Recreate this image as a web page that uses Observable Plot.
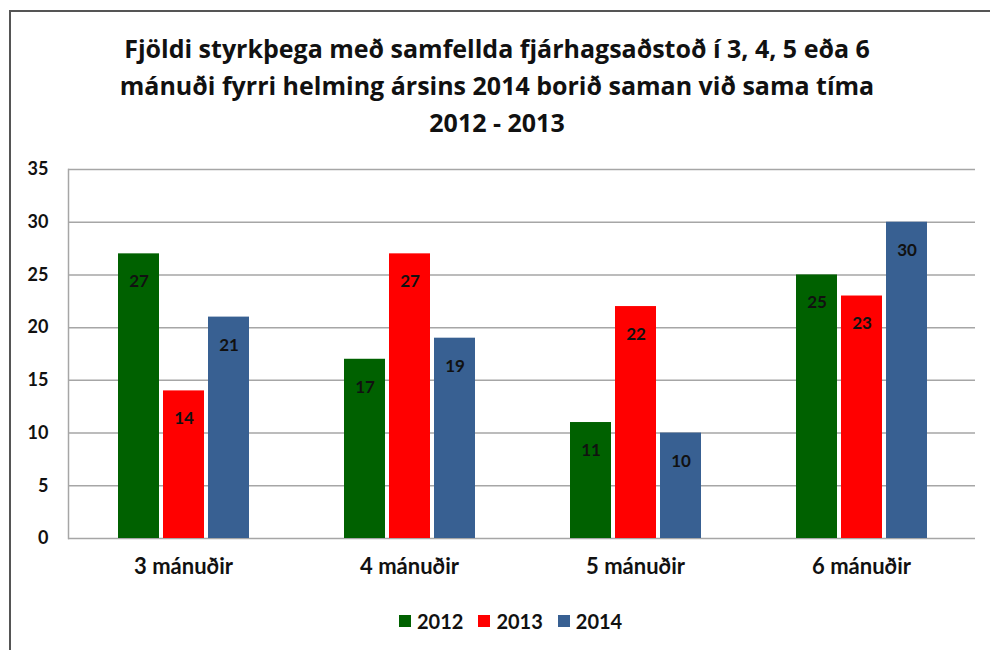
<!DOCTYPE html>
<html>
<head>
<meta charset="utf-8">
<script src="https://cdn.jsdelivr.net/npm/d3@7"></script>
<script src="https://cdn.jsdelivr.net/npm/@observablehq/plot@0.6"></script>
<style>
  html, body { margin: 0; padding: 0; background: #fff; }
  #page { position: relative; width: 990px; height: 650px; overflow: hidden; background: #fff; font-family: Lato, "Open Sans", sans-serif; }
  #frame { position: absolute; left: 9px; top: 10px; width: 1100px; height: 800px; border-top: 2px solid #555; border-left: 2px solid #555; }
  #title { position: absolute; left: 0; top: 30px; width: 990px; padding-left: 4px; box-sizing: border-box; text-align: center; font-family: "Open Sans", sans-serif; font-weight: 700; font-size: 25px; line-height: 37px; color: #111; }
  .layer { position: absolute; left: 0; top: 150px; }
  #legend { position: absolute; top: 609px; left: 399px; display: flex; align-items: center; font-weight: 700; font-size: 20px; color: #111; }
  .item { display: flex; align-items: center; margin-right: 15px; }
  .sw { width: 12px; height: 12px; margin-right: 6px; }
</style>
</head>
<body>
<div id="page">
  <div id="frame"></div>
  <div id="title">Fjöldi styrkþega með samfellda fjárhagsaðstoð í 3, 4, 5 eða 6<br>mánuði fyrri helming ársins 2014 borið saman við sama tíma<br>2012 - 2013</div>
  <div id="back" class="layer"></div>
  <div id="front" class="layer"></div>
  <div id="legend"></div>
</div>
<script>
const categories = ["3 mánuðir", "4 mánuðir", "5 mánuðir", "6 mánuðir"];
const years = ["2012", "2013", "2014"];
const values2012 = [27, 17, 11, 25];
const values2013 = [14, 27, 22, 23];
const values2014 = [21, 19, 10, 30];
const colors = ["#006100", "#ff0000", "#386092"];
const yTicks = [0, 5, 10, 15, 20, 25, 30, 35];

const series = [values2012, values2013, values2014];
const data = [];
categories.forEach((c, i) => {
  years.forEach((y, j) => data.push({category: c, year: y, value: series[j][i]}));
});

const layout = {
  width: 990,
  height: 438,
  marginLeft: 68,
  marginRight: 15,
  marginTop: 19,
  marginBottom: 50
};
const font = "Lato, 'Open Sans', sans-serif";
const gridColor = "#a6a6a6";

// Background layer: grid, y axis, category axis
const back = Plot.plot({
  ...layout,
  style: {fontFamily: font, background: "transparent"},
  x: {domain: categories, paddingInner: 0.4, paddingOuter: 0.2, axis: null},
  y: {domain: [0, 35], axis: null},
  marks: [
    Plot.gridY(yTicks, {stroke: gridColor, strokeOpacity: 1, strokeWidth: 1.5}),
    Plot.frame({anchor: "left", stroke: gridColor, strokeWidth: 1.5}),
    Plot.axisY(yTicks, {tickSize: 0, tickPadding: 20, fontSize: 18, fontWeight: 700, fill: "#111"}),
    Plot.axisX({anchor: "bottom", tickSize: 0, tickPadding: 20, fontSize: 22, fontWeight: 700, fill: "#111", label: null})
  ]
});
document.getElementById("back").appendChild(back);

// Foreground layer: grouped bars via fx facets
const front = Plot.plot({
  ...layout,
  style: {fontFamily: font, background: "transparent"},
  fx: {domain: categories, paddingInner: 0.4, paddingOuter: 0.2, axis: null},
  x: {domain: years, paddingInner: 0.1, paddingOuter: 0.05, axis: null},
  y: {domain: [0, 35], axis: null},
  color: {domain: years, range: colors},
  marks: [
    Plot.barY(data, {fx: "category", x: "year", y: "value", fill: "year"}),
    Plot.text(data, {fx: "category", x: "year", y: "value", text: d => String(d.value), dy: 28, fontSize: 17, fontWeight: 700, fill: "#111"})
  ]
});
document.getElementById("front").appendChild(front);

const legend = document.getElementById("legend");
years.forEach((y, j) => {
  const item = document.createElement("div");
  item.className = "item";
  const sw = document.createElement("div");
  sw.className = "sw";
  sw.style.background = colors[j];
  item.appendChild(sw);
  const t = document.createElement("span");
  t.textContent = y;
  item.appendChild(t);
  legend.appendChild(item);
});
</script>
</body>
</html>
